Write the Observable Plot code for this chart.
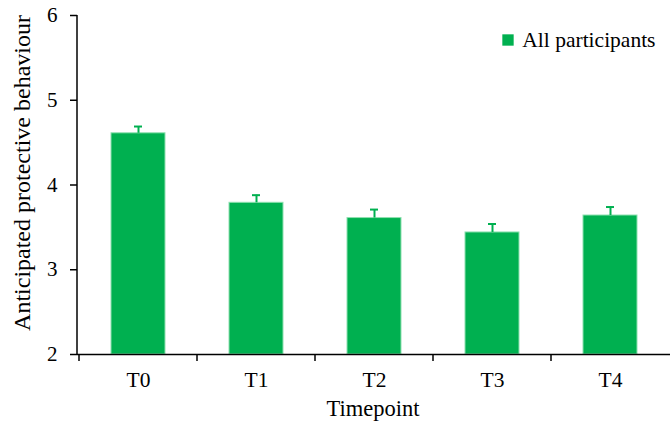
<!DOCTYPE html>
<html>
<head>
<meta charset="utf-8">
<script src="https://cdn.jsdelivr.net/npm/d3@7"></script>
<script src="https://cdn.jsdelivr.net/npm/@observablehq/plot@0.6"></script>
<style>
  html, body { margin: 0; padding: 0; background: #fff; }
  #chart svg { display: block; font-family: "Liberation Serif", "Times New Roman", serif !important; }
  #chart svg text { font-family: "Liberation Serif", "Times New Roman", serif !important; fill: #000; }
</style>
</head>
<body>
<div id="chart"></div>
<script>
const timepoints = ["T0", "T1", "T2", "T3", "T4"];
const means = [4.61, 3.79, 3.61, 3.44, 3.64];
const errors = [0.08, 0.09, 0.10, 0.10, 0.10];
const yTicks = [2, 3, 4, 5, 6];
const seriesName = "All participants";
const xTitle = "Timepoint";
const yTitle = "Anticipated protective behaviour";

const data = timepoints.map((t, i) => ({t, v: means[i], e: errors[i], top: means[i] + errors[i]}));

const font = "Liberation Serif";
const green = "#00B050";

const chart = Plot.plot({
  width: 670,
  height: 422,
  marginLeft: 77,
  marginRight: 0,
  marginTop: 15,
  marginBottom: 68,
  style: {fontFamily: font, fontSize: "21px", color: "#000", background: "#fff"},
  x: {domain: timepoints, padding: 0, label: null},
  y: {domain: [2, 6], label: null},
  marks: [
    Plot.barY(data, {x: "t", y1: 2, y2: "v", fill: green, stroke: "#8ee0b0", strokeWidth: 1, insetLeft: 32, insetRight: 32}),
    Plot.ruleX(data, {x: "t", y1: "v", y2: "top", stroke: green, strokeWidth: 2}),
    Plot.tickY(data, {x: "t", y: "top", stroke: green, strokeWidth: 2, insetLeft: 55, insetRight: 55}),
    Plot.ruleY([2], {stroke: "#000", strokeWidth: 1.5}),
    Plot.axisY({ticks: yTicks, tickSize: 7, tickPadding: 13, tickFormat: d3.format("d"), fontSize: 21, fontFamily: font, label: null, strokeWidth: 1.5}),
    Plot.axisX({tickSize: 0, tickPadding: 17, fontSize: 21.5, fontFamily: font, label: null}),
    Plot.text([xTitle], {frameAnchor: "bottom", lineAnchor: "middle", dx: -1, dy: 54, fontSize: 22.5, fontFamily: font}),
    Plot.text([yTitle], {frameAnchor: "left", textAnchor: "middle", rotate: -90, dx: -55, dy: -12, fontSize: 24, fontFamily: font}),
    Plot.dot([seriesName], {frameAnchor: "top-right", symbol: "square", r: 6.4, fill: green, dx: -162.5, dy: 24.5}),
    Plot.text([seriesName], {frameAnchor: "top-right", textAnchor: "end", lineAnchor: "middle", dx: -15, dy: 25, fontSize: 21.5, fontFamily: font})
  ]
});

// axis lines and category boundary ticks drawn from the plot's own scales
const xs = chart.scale("x");
const ys = chart.scale("y");
const svg = d3.select(chart);
const xLeft = xs.range[0];
const yBottom = ys.apply(2);
svg.append("line")
  .attr("x1", xLeft).attr("x2", xLeft)
  .attr("y1", ys.apply(6)).attr("y2", yBottom)
  .attr("stroke", "#000").attr("stroke-width", 1.5);
timepoints.forEach(t => {
  const bx = xs.apply(t);
  svg.append("line")
    .attr("x1", bx).attr("x2", bx)
    .attr("y1", yBottom).attr("y2", yBottom + 7)
    .attr("stroke", "#000").attr("stroke-width", 1.5);
});

document.getElementById("chart").appendChild(chart);
</script>
</body>
</html>
